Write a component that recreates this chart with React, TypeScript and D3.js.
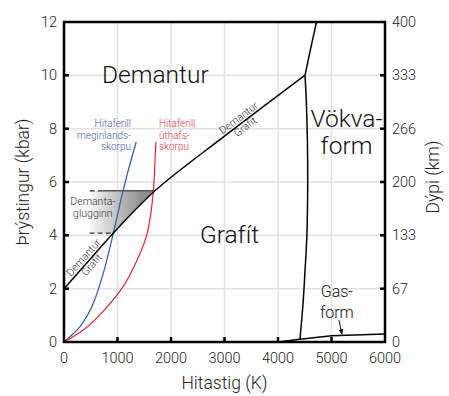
import React from 'react';
import * as d3 from 'd3';

// Ás
const xTicks = [0, 1000, 2000, 3000, 4000, 5000, 6000];
const yTicks = [0, 2, 4, 6, 8, 10, 12];
const depthLabels = ['0', '67', '133', '200', '266', '333', '400'];

// Demantur / Grafít mörk
const boundaryT = [0, 450, 920, 1700, 3000, 4500];
const boundaryP = [2, 3.02, 4.08, 5.67, 7.72, 10];

// Bráðnunarferill
const meltUpperT = [4505, 4610, 4720];
const meltUpperP = [10, 11, 12];
const meltLowerT = [4505, 4530, 4550, 4555, 4540, 4500, 4470, 4410];
const meltLowerP = [10, 9, 7.5, 6, 4, 2.5, 1.5, 0.1];

// Gasform
const gasT = [4000, 4410, 5000, 6000];
const gasP = [0, 0.1, 0.23, 0.3];

// Hitaferlar
const blueT = [0, 112, 300, 548, 735, 922, 1078, 1203, 1352];
const blueP = [0, 0.2, 0.58, 1.45, 2.58, 4.08, 5.45, 6.45, 7.51];
const redT = [0, 392, 660, 1080, 1350, 1545, 1635, 1682, 1705, 1718];
const redP = [0, 0.5, 1, 2, 3, 4, 5, 6, 7, 7.5];

// Demantaglugginn
const windowTop = 5.67;
const windowBottom = 4.08;
const windowLeftT = 480;
const windowTopRightT = 1690;
const windowBottomRightT = 922;

const W = 449;
const H = 396;

const App = () => {
    const x = d3.scaleLinear().domain([0, 6000]).range([64, 385]);
    const y = d3.scaleLinear().domain([0, 12]).range([342, 22]);
    const boundaryAt = d3.scaleLinear().domain(boundaryT).range(boundaryP);

    const lineX = (ts: number[], ps: number[], curve: any) =>
        d3.line<number>()
            .x((d, i) => x(ts[i]))
            .y((d, i) => y(ps[i]))
            .curve(curve)(ts) as string;

    const font = "Roboto, 'Liberation Sans', Arial, sans-serif";
    const [x0, x1] = x.range();
    const [y0, y1] = y.range();

    // Rotated label helper
    const alongLine = (t: number, dt: number) => {
        const px = x(t), py = y(boundaryAt(t));
        const qx = x(t + dt), qy = y(boundaryAt(t + dt));
        const angle = Math.atan2(qy - py, qx - px) * 180 / Math.PI;
        return { px, py, angle };
    };
    const lowLab = alongLine(450, 200);
    const highLab = alongLine(3330, 300);

    const windowPoly = [
        [windowLeftT, windowTop],
        [windowTopRightT, windowTop],
        [windowBottomRightT, windowBottom],
        [windowLeftT, windowBottom],
    ].map(([t, p]) => `${x(t)},${y(p)}`).join(' ');

    return (
        <svg width={W} height={H} style={{ position: 'absolute', left: 0, top: 0, display: 'block' }} fontFamily={font} fontWeight={300}>
            <defs>
                <linearGradient id="glugg" gradientUnits="userSpaceOnUse" x1={x(420)} x2={x(1450)} y1={0} y2={0}>
                    <stop offset="0" stopColor="#ffffff" />
                    <stop offset="1" stopColor="#909090" />
                </linearGradient>
                <marker id="arrow" viewBox="0 0 10 10" refX="9" refY="5" markerWidth="6" markerHeight="6" orient="auto">
                    <path d="M0,1 L10,5 L0,9 Z" fill="#111" />
                </marker>
            </defs>
            <rect width={W} height={H} fill="#fff" />

            {/* grid */}
            {xTicks.slice(1, -1).map(t => (
                <line key={'gx' + t} x1={x(t)} x2={x(t)} y1={y0} y2={y1} stroke="#e2e2e2" strokeWidth={1.5} />
            ))}
            {yTicks.slice(1, -1).map(p => (
                <line key={'gy' + p} x1={x0} x2={x1} y1={y(p)} y2={y(p)} stroke="#e2e2e2" strokeWidth={1.5} />
            ))}

            {/* demantaglugginn */}
            <polygon points={windowPoly} fill="url(#glugg)" />
            <line x1={x(windowLeftT)} x2={x(720)} y1={y(windowTop)} y2={y(windowTop)} stroke="#333" strokeWidth={1.2} strokeDasharray="5,3" />
            <line x1={x(720)} x2={x(windowTopRightT)} y1={y(windowTop)} y2={y(windowTop)} stroke="#555" strokeWidth={1.5} />
            <line x1={x(windowLeftT)} x2={x(windowBottomRightT)} y1={y(windowBottom)} y2={y(windowBottom)} stroke="#333" strokeWidth={1.2} strokeDasharray="5,3" />
            <text x={x(540)} y={y(5.15)} fontSize={10.5} fill="#333" textAnchor="middle">Demanta-</text>
            <text x={x(540)} y={y(4.7)} fontSize={10.5} fill="#333" textAnchor="middle">glugginn</text>

            {/* hitaferlar */}
            <path d={lineX(blueT, blueP, d3.curveMonotoneX)} fill="none" stroke="#3457a8" strokeWidth={1.2} />
            <path d={lineX(redT, redP, d3.curveCatmullRom)} fill="none" stroke="#e3242f" strokeWidth={1.2} />

            {/* fasamörk */}
            <path d={lineX(boundaryT, boundaryP, d3.curveCatmullRom)} fill="none" stroke="#000" strokeWidth={1.5} />
            <path d={lineX(meltUpperT, meltUpperP, d3.curveCatmullRom)} fill="none" stroke="#000" strokeWidth={1.5} />
            <path d={lineX(meltLowerT, meltLowerP, d3.curveCatmullRom)} fill="none" stroke="#000" strokeWidth={1.5} />
            <path d={lineX(gasT, gasP, d3.curveLinear)} fill="none" stroke="#000" strokeWidth={1.5} />

            {/* frame */}
            <rect x={x0} y={y1} width={x1 - x0} height={y0 - y1} fill="none" stroke="#000" strokeWidth={2.5} />
            {xTicks.slice(1, -1).map(t => (
                <line key={'tx' + t} x1={x(t)} x2={x(t)} y1={y0} y2={y0 - 5} stroke="#000" strokeWidth={2.5} />
            ))}
            {yTicks.slice(1, -1).map(p => (
                <g key={'ty' + p}>
                    <line x1={x0} x2={x0 + 5} y1={y(p)} y2={y(p)} stroke="#000" strokeWidth={2.5} />
                    <line x1={x1} x2={x1 - 5} y1={y(p)} y2={y(p)} stroke="#000" strokeWidth={2.5} />
                </g>
            ))}

            {/* tick labels */}
            {xTicks.map(t => (
                <text key={'lx' + t} x={x(t)} y={363} fontSize={14.5} fill="#222" textAnchor="middle">{t}</text>
            ))}
            {yTicks.map(p => (
                <text key={'ly' + p} x={57} y={y(p)} dy="0.35em" fontSize={14.5} fill="#222" textAnchor="end">{p}</text>
            ))}
            {depthLabels.map((d, i) => (
                <text key={'ld' + d} x={392} y={y(yTicks[i])} dy="0.35em" fontSize={14.5} fill="#222">{d}</text>
            ))}

            {/* axis titles */}
            <text x={(x0 + x1) / 2} y={389} fontSize={17.5} fill="#222" textAnchor="middle">Hitastig (K)</text>
            <text transform={`translate(29,${(y0 + y1) / 2}) rotate(-90)`} fontSize={17.5} fill="#222" textAnchor="middle">Þrýstingur (kbar)</text>
            <text transform={`translate(439,177) rotate(-90)`} fontSize={17.5} fill="#222" textAnchor="middle">Dýpi (km)</text>

            {/* region labels */}
            <text x={x(710)} y={y(9.7)} fontSize={24.5} fill="#111">Demantur</text>
            <text x={x(2540)} y={y(3.72)} fontSize={24.5} fill="#111">Grafít</text>
            <text x={x(5280)} y={y(8.05)} fontSize={24.5} fill="#111" textAnchor="middle">Vökva-</text>
            <text x={x(5280)} y={y(7.05)} fontSize={24.5} fill="#111" textAnchor="middle">form</text>
            <text x={x(5100)} y={y(1.69)} fontSize={16} fill="#111" textAnchor="middle">Gas-</text>
            <text x={x(5100)} y={y(0.9)} fontSize={16} fill="#111" textAnchor="middle">form</text>
            <line x1={x(5140)} y1={y(0.82)} x2={x(5196)} y2={y(0.28)} stroke="#111" strokeWidth={1} markerEnd="url(#arrow)" />

            {/* hitaferill labels */}
            <g fontSize={10} fill="#3f62b0" textAnchor="end">
                <text x={x(1252)} y={y(8.05)}>Hitaferill</text>
                <text x={x(1252)} y={y(7.63)}>meginlands-</text>
                <text x={x(1252)} y={y(7.21)}>skorpu</text>
            </g>
            <g fontSize={10} fill="#e33a45">
                <text x={x(1776)} y={y(8.05)}>Hitaferill</text>
                <text x={x(1776)} y={y(7.63)}>úthafs-</text>
                <text x={x(1776)} y={y(7.21)}>skorpu</text>
            </g>

            {/* labels along boundary */}
            <g transform={`translate(${lowLab.px},${lowLab.py}) rotate(${lowLab.angle})`} fontSize={10.5} fill="#333" textAnchor="middle">
                <text y={-2.5}>Demantur</text>
                <text y={8.5}>Grafít</text>
            </g>
            <g transform={`translate(${highLab.px},${highLab.py}) rotate(${highLab.angle})`} fontSize={10.5} fill="#333" textAnchor="middle">
                <text y={-2.5}>Demantur</text>
                <text y={8.5}>Grafít</text>
            </g>
        </svg>
    );
};

export default App;
